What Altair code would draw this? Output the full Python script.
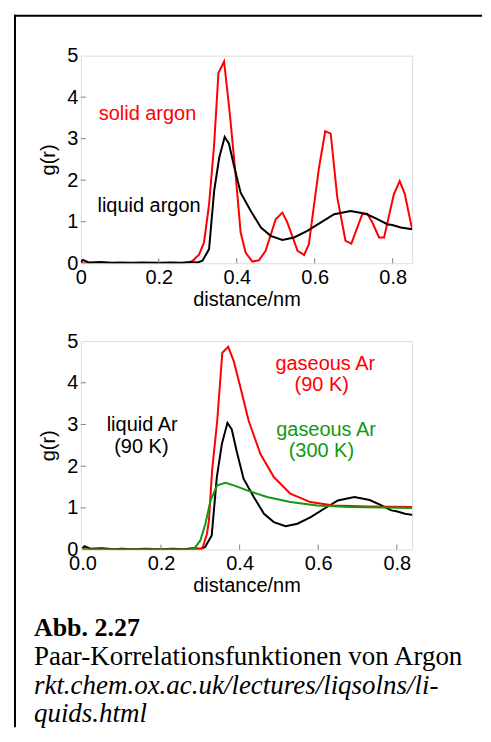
import altair as alt
import pandas as pd

# ---------------- data ----------------
solid_r = [0.0, 0.05, 0.1, 0.15, 0.2, 0.25, 0.28, 0.29, 0.295, 0.303, 0.316, 0.329, 0.342, 0.353,
           0.3675, 0.382, 0.397, 0.41, 0.423, 0.44, 0.457, 0.474, 0.5, 0.517, 0.53, 0.556,
           0.573, 0.585, 0.611, 0.627, 0.641, 0.658, 0.679, 0.694, 0.722, 0.735, 0.748,
           0.765, 0.778, 0.803, 0.818, 0.831, 0.85]
solid_g = [0.0, 0.0, 0.0, 0.0, 0.0, 0.0, 0.02, 0.08, 0.14, 0.2, 0.5, 1.42, 2.86, 4.58,
           4.86, 3.62, 2.14, 0.74, 0.25, 0.04, 0.07, 0.3, 1.06, 1.22, 0.98, 0.3,
           0.2, 0.46, 2.3, 3.18, 3.12, 1.58, 0.54, 0.47, 1.18, 1.19, 0.98,
           0.62, 0.62, 1.66, 1.98, 1.67, 0.82]

liquid_r = [0.0, 0.005, 0.02, 0.05, 0.08, 0.1, 0.13, 0.16, 0.2, 0.23, 0.26, 0.28, 0.3,
            0.312, 0.329, 0.342, 0.355, 0.369, 0.38, 0.393, 0.41, 0.436, 0.462, 0.487,
            0.517, 0.547, 0.581, 0.615, 0.65, 0.692, 0.731, 0.761, 0.786, 0.799, 0.821, 0.85]
liquid_g = [0.03, 0.08, 0.02, 0.03, 0.01, 0.02, 0.01, 0.02, 0.01, 0.02, 0.01, 0.03, 0.02,
            0.06, 0.34, 1.74, 2.54, 3.04, 2.88, 2.34, 1.7, 1.26, 0.86, 0.66,
            0.56, 0.62, 0.78, 0.98, 1.18, 1.26, 1.19, 1.06, 0.94, 0.92, 0.86, 0.82]

gas90_r = [0.0, 0.1, 0.2, 0.28, 0.305, 0.317, 0.322, 0.33, 0.343, 0.356, 0.371, 0.385,
           0.402, 0.423, 0.453, 0.487, 0.529, 0.58, 0.639, 0.724, 0.84]
gas90_g = [0.0, 0.0, 0.0, 0.0, 0.02, 0.38, 0.7, 1.9, 3.09, 4.72, 4.86, 4.52,
           3.89, 3.09, 2.29, 1.74, 1.34, 1.14, 1.06, 1.035, 1.02]

gas300_r = [0.0, 0.1, 0.2, 0.27, 0.284, 0.3, 0.313, 0.326, 0.343, 0.364, 0.385, 0.419,
            0.47, 0.529, 0.597, 0.681, 0.84]
gas300_g = [0.0, 0.0, 0.0, 0.0, 0.02, 0.22, 0.62, 1.18, 1.54, 1.6, 1.54, 1.42,
            1.26, 1.14, 1.06, 1.02, 1.0]

x_tick_values = [0.0, 0.2, 0.4, 0.6, 0.8]
y_tick_values = [0, 1, 2, 3, 4, 5]

top_labels = ["solid argon", "liquid argon"]
top_label_x = [0.171, 0.175]
top_label_y = [3.6, 1.38]
top_label_color = ["#ff0000", "#000000"]

bot_labels = ["gaseous Ar", "(90 K)", "liquid Ar", "(90 K)", "gaseous Ar", "(300 K)"]
bot_label_x = [0.618, 0.609, 0.152, 0.15, 0.62, 0.608]
bot_label_y = [4.45, 3.95, 2.98, 2.47, 2.86, 2.36]
bot_label_color = ["#ff0000", "#ff0000", "#000000", "#000000", "#119911", "#119911"]

caption_lines = ["Abb. 2.27",
                 "Paar-Korrelationsfunktionen von Argon",
                 "rkt.chem.ox.ac.uk/lectures/liqsolns/li-",
                 "quids.html"]

# ---------------- layout constants ----------------
W, H_TOP, H_BOT = 332, 208, 209
SANS = "Liberation Sans"
SERIF = "Liberation Serif"
FS = 20
FRAME = "#808080"


def line_df(r, g):
    return pd.DataFrame({"r": r, "g": g})


def make_axes(xdom, h, xlabel_expr):
    x = alt.X("r:Q", scale=alt.Scale(domain=xdom, nice=False, zero=False),
              axis=alt.Axis(values=x_tick_values, title="distance/nm", grid=False,
                            domain=False, ticks=False, labelFont=SANS, labelFontSize=FS,
                            labelColor="#000", titleFont=SANS, titleFontSize=FS,
                            titleFontWeight="normal", titleColor="#000",
                            labelPadding=4, titlePadding=2, labelExpr=xlabel_expr,
                            labelFlush=False, labelOverlap=False))
    y = alt.Y("g:Q", scale=alt.Scale(domain=[0, 5], nice=False),
              axis=alt.Axis(values=y_tick_values, title="g(r)", grid=False,
                            domain=False, ticks=False, labelFont=SANS, labelFontSize=FS,
                            labelColor="#000", titleFont=SANS, titleFontSize=FS,
                            titleFontWeight="normal", titleColor="#000",
                            labelPadding=3, titlePadding=8, labelFlush=False,
                            labelOverlap=False))
    return x, y


def panel(xdom, h, xlabel_expr, series, labels):
    x, y = make_axes(xdom, h, xlabel_expr)
    layers = []
    for (r, g, color) in series:
        layers.append(alt.Chart(line_df(r, g)).mark_line(color=color, strokeWidth=2,
                                                            clip=True)
                      .encode(x=x, y=y))
    ldf = pd.DataFrame({"t": labels[0], "r": labels[1], "g": labels[2], "c": labels[3]})
    layers.append(alt.Chart(ldf).mark_text(font=SANS, fontSize=FS, align="center",
                                           baseline="middle")
                  .encode(x=alt.X("r:Q"), y=alt.Y("g:Q"), text="t:N",
                          color=alt.Color("c:N", scale=None)))
    xt = pd.DataFrame({"r": [v for v in x_tick_values if v > 0]})
    layers.append(alt.Chart(xt).mark_rule(color=FRAME, strokeWidth=1)
                  .encode(x="r:Q", y=alt.value(h), y2=alt.value(h - 5)))
    yt = pd.DataFrame({"g": [v for v in y_tick_values if 0 < v < 5]})
    layers.append(alt.Chart(yt).mark_rule(color=FRAME, strokeWidth=1)
                  .encode(y="g:Q", x=alt.value(0), x2=alt.value(5)))
    return layers


top_layers = panel([0, 0.85], H_TOP,
                   "datum.value == 0 ? '0' : format(datum.value, '.1f')",
                   [(solid_r, solid_g, "#ff0000"), (liquid_r, liquid_g, "#000000")],
                   (top_labels, top_label_x, top_label_y, top_label_color))

one = pd.DataFrame({"k": [0]})
border_v = alt.Chart(one).mark_rule(color="#000", strokeWidth=2, strokeCap="square").encode(
    x=alt.value(-66), y=alt.value(-40), y2=alt.value(672))
border_h = alt.Chart(one).mark_rule(color="#000", strokeWidth=2, strokeCap="square").encode(
    x=alt.value(-66), x2=alt.value(401), y=alt.value(-40))

top = alt.layer(*top_layers, border_v, border_h).properties(width=W, height=H_TOP)

bot_layers = panel([-0.004, 0.839], H_BOT, "format(datum.value, '.1f')",
                   [(liquid_r, liquid_g, "#000000"), (gas90_r, gas90_g, "#ff0000"),
                    (gas300_r, gas300_g, "#119911")],
                   (bot_labels, bot_label_x, bot_label_y, bot_label_color))

cap_y = [296, 325, 354, 382]
cap_style = [("bold", "normal", 26), ("normal", "normal", 27), ("normal", "italic", 27),
             ("normal", "italic", 27)]
cap_layers = []
for line, yy, (fw, fst, fsz) in zip(caption_lines, cap_y, cap_style):
    cap_layers.append(alt.Chart(pd.DataFrame({"t": [line]})).mark_text(
        font=SERIF, fontSize=fsz, fontWeight=fw, fontStyle=fst, align="left",
        baseline="alphabetic", color="#000").encode(
        x=alt.value(-47), y=alt.value(yy), text="t:N"))

bottom = alt.layer(*bot_layers, *cap_layers).properties(width=W, height=H_BOT)

chart = alt.vconcat(top, bottom, spacing=78, bounds="flush").properties(
    padding={"left": 5, "top": 5, "right": 0, "bottom": 0}
).configure_view(stroke=FRAME, strokeWidth=1).configure(background="white")

chart.save("out.html", embed_options={"renderer": "svg", "actions": False})
